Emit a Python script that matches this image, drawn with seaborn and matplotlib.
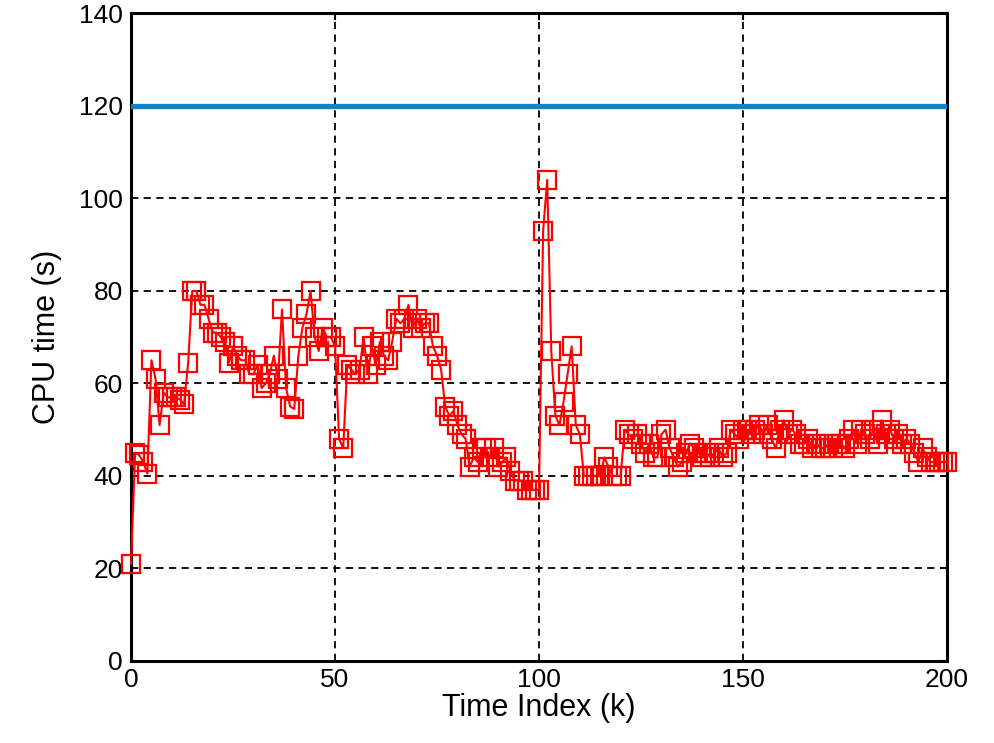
import numpy as np
import pandas as pd
import matplotlib
matplotlib.use("Agg")
import matplotlib.pyplot as plt
import seaborn as sns

# CPU time per time index
cpu_time = [
    21, 45, 44.5, 43, 40.5, 65, 61, 51, 58, 57,
    57, 57, 56.5, 55.5, 64.5, 80, 80, 77, 77, 74,
    71, 71, 70, 69, 64.5, 68, 66, 65, 65, 62,
    62, 64, 59, 60, 62, 66, 61, 76, 59, 55,
    54.5, 66, 72, 75, 80, 70, 67, 72, 70, 70,
    68, 48, 46, 64, 63, 62, 63, 70, 62, 68,
    64, 69, 66, 65, 69, 74, 73, 74, 77, 72,
    74, 72, 73, 73, 68, 66, 63, 55, 53, 54,
    51, 49, 48, 42, 44, 43, 46, 46, 44, 46,
    42, 43, 44, 41, 39, 39, 39, 37, 37, 37,
    37, 93, 104, 67, 53, 51, 56, 62, 68, 51,
    49, 40, 40, 40, 40, 40, 44, 42, 40, 40,
    40, 50, 49, 48, 49, 47, 45, 47, 44, 44,
    49, 50, 46, 44, 42, 43, 45, 47, 46, 45,
    44, 45, 44, 45, 46, 44, 45, 50, 49, 48,
    50, 50, 49, 50, 51, 49, 51, 48, 46, 50,
    52, 49, 50, 49, 47, 47, 48, 46, 47, 46,
    46, 47, 46, 47, 47, 46, 48, 50, 47, 50,
    49, 48, 50, 47, 52, 49, 50, 48, 49, 47,
    48, 47, 45, 43, 46, 44, 43, 43, 43, 43,
    43,
]
time_limit = 120  # horizontal limit line
x_ticks = [0, 50, 100, 150, 200]
y_ticks = [0, 20, 40, 60, 80, 100, 120, 140]

df = pd.DataFrame({"k": np.arange(len(cpu_time)), "cpu": cpu_time})

sns.set_style("white")
plt.rcParams["font.family"] = ["Liberation Sans", "DejaVu Sans"]
plt.rcParams["text.color"] = "black"
plt.rcParams["axes.labelcolor"] = "black"

fig = plt.figure(figsize=(9.95, 7.43), dpi=100)
ax = fig.add_axes([0.1317, 0.1104, 0.8201, 0.8716])

ax.axhline(time_limit, color="#1380c8", linewidth=3.8, zorder=3)
sns.lineplot(data=df, x="k", y="cpu", ax=ax, color="red", linewidth=1.5,
             marker="s", markersize=13, markerfacecolor="none",
             markeredgecolor="red", markeredgewidth=1.6, zorder=4,
             clip_on=False)

ax.set_xlim(0, 200)
ax.set_ylim(0, 140)
ax.set_xticks(x_ticks)
ax.set_yticks(y_ticks)
ax.grid(True, color="black", linestyle=(0, (4, 3)), linewidth=1.3)
ax.set_axisbelow(True)

for s in ax.spines.values():
    s.set_color("black")
    s.set_linewidth(2.2)
ax.tick_params(direction="in", length=5, width=1.5, top=True, right=True,
               colors="black", labelsize=19)
ax.tick_params(axis="x", pad=5)
ax.tick_params(axis="y", pad=6)

ax.set_xlabel("Time Index (k)", fontsize=22, labelpad=1)
ax.set_ylabel("CPU time (s)", fontsize=22, labelpad=12)

fig.savefig("out.png", dpi=100)
